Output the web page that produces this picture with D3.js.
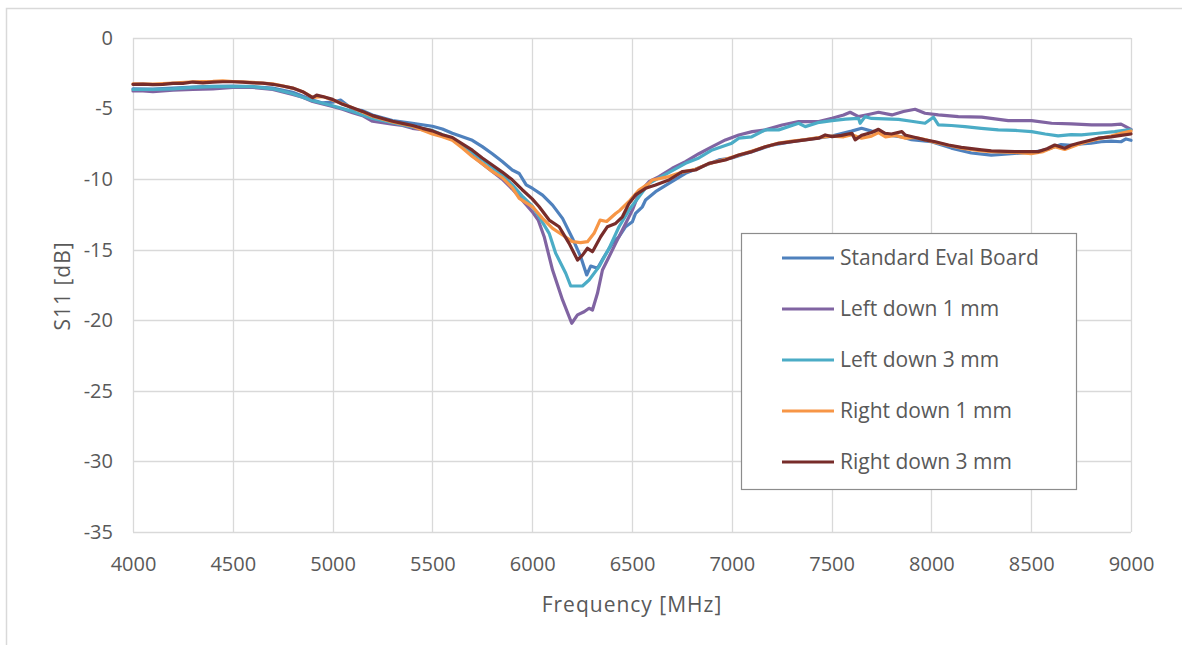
<!DOCTYPE html>
<html>
<head>
<meta charset="utf-8">
<script src="https://cdn.jsdelivr.net/npm/d3@7"></script>
<style>
  html, body { margin: 0; padding: 0; background: #ffffff; }
  svg { display: block; }
  text { font-family: "Open Sans", "Noto Sans", sans-serif; fill: #595959; }
</style>
</head>
<body>
<svg id="chart" width="1182" height="645"></svg>
<script>
// ---------- data ----------
const seriesNames = ["Standard Eval Board", "Left down 1 mm", "Left down 3 mm", "Right down 1 mm", "Right down 3 mm"];
const seriesColors = ["#4F81BD", "#8064A2", "#4BACC6", "#F79646", "#772C2A"];
const xTicks = [4000, 4500, 5000, 5500, 6000, 6500, 7000, 7500, 8000, 8500, 9000];
const yTicks = [0, -5, -10, -15, -20, -25, -30, -35];

// [frequency MHz, S11 dB]
const standardEval = [
  [4000,-3.6],[4100,-3.62],[4200,-3.55],[4300,-3.47],[4400,-3.42],[4500,-3.4],[4600,-3.45],[4700,-3.55],
  [4800,-3.85],[4900,-4.4],[4950,-4.6],[5000,-4.55],[5040,-4.4],[5100,-5.05],[5150,-5.15],[5200,-5.45],
  [5300,-5.85],[5400,-6.05],[5500,-6.25],[5550,-6.45],[5600,-6.75],[5650,-7.0],[5700,-7.25],[5750,-7.7],
  [5800,-8.2],[5850,-8.75],[5900,-9.35],[5935,-9.6],[5970,-10.4],[6002,-10.66],[6052,-11.13],[6102,-11.84],
  [6152,-12.78],[6202,-14.2],[6243,-15.5],[6273,-16.79],[6293,-16.16],[6327,-16.32],[6360,-15.5],[6402,-14.55],
  [6435,-14.08],[6468,-13.37],[6502,-13.02],[6518,-12.42],[6552,-11.96],[6568,-11.48],[6618,-10.89],[6685,-10.3],
  [6768,-9.59],[6852,-9.11],[6935,-8.64],[7000,-8.5],[7100,-8.05],[7200,-7.6],[7300,-7.35],[7400,-7.15],
  [7500,-6.95],[7600,-6.6],[7650,-6.4],[7700,-6.6],[7750,-6.7],[7800,-6.9],[7850,-7.0],[7900,-7.2],
  [8000,-7.35],[8100,-7.8],[8200,-8.15],[8300,-8.3],[8400,-8.2],[8500,-8.1],[8550,-8.0],[8600,-7.8],
  [8650,-7.55],[8700,-7.6],[8750,-7.5],[8800,-7.45],[8850,-7.35],[8900,-7.3],[8950,-7.35],[8975,-7.15],[9000,-7.25]
];
const leftDown1 = [
  [4000,-3.75],[4050,-3.75],[4100,-3.8],[4200,-3.7],[4300,-3.65],[4400,-3.6],[4500,-3.5],[4600,-3.5],
  [4700,-3.65],[4800,-4.0],[4850,-4.2],[4900,-4.5],[5000,-4.85],[5050,-5.05],[5100,-5.3],[5150,-5.5],
  [5200,-5.9],[5250,-6.0],[5300,-6.1],[5350,-6.2],[5400,-6.4],[5450,-6.5],[5500,-6.7],[5550,-6.95],
  [5600,-7.2],[5650,-7.7],[5700,-8.35],[5750,-8.9],[5800,-9.45],[5850,-10.0],[5900,-10.7],[5950,-11.5],
  [6000,-12.3],[6030,-12.9],[6060,-14.08],[6102,-16.44],[6152,-18.56],[6198,-20.21],[6227,-19.62],[6260,-19.4],
  [6285,-19.15],[6302,-19.27],[6327,-18.09],[6352,-16.44],[6385,-15.5],[6418,-14.55],[6468,-13.14],[6502,-12.19],
  [6535,-11.0],[6585,-10.18],[6635,-9.82],[6702,-9.23],[6768,-8.76],[6835,-8.2],[6902,-7.7],[6968,-7.22],
  [7035,-6.87],[7102,-6.63],[7168,-6.51],[7252,-6.16],[7335,-5.92],[7435,-5.92],[7502,-5.69],[7560,-5.45],
  [7593,-5.26],[7635,-5.57],[7690,-5.4],[7735,-5.26],[7802,-5.45],[7860,-5.21],[7918,-5.05],[7968,-5.33],
  [8035,-5.45],[8135,-5.57],[8252,-5.61],[8385,-5.85],[8502,-5.85],[8602,-6.04],[8702,-6.09],[8802,-6.16],
  [8902,-6.16],[8950,-6.1],[9000,-6.47]
];
const leftDown3 = [
  [4000,-3.65],[4100,-3.65],[4200,-3.6],[4300,-3.5],[4400,-3.45],[4500,-3.45],[4600,-3.45],[4700,-3.6],
  [4800,-3.95],[4900,-4.45],[5000,-4.8],[5100,-5.2],[5200,-5.7],[5300,-6.0],[5400,-6.3],[5500,-6.55],
  [5550,-6.85],[5600,-7.1],[5650,-7.6],[5700,-8.1],[5750,-8.6],[5800,-9.15],[5850,-9.7],[5900,-10.4],
  [5950,-11.2],[6000,-11.9],[6035,-12.67],[6085,-13.84],[6118,-15.26],[6168,-16.67],[6193,-17.57],[6252,-17.57],
  [6285,-17.15],[6335,-16.2],[6385,-14.9],[6435,-13.37],[6485,-12.19],[6535,-11.25],[6585,-10.3],[6652,-9.78],
  [6768,-8.88],[6835,-8.5],[6902,-7.93],[7000,-7.45],[7035,-7.1],[7100,-7.0],[7168,-6.51],[7235,-6.51],
  [7335,-6.04],[7368,-6.28],[7430,-6.0],[7502,-5.85],[7570,-5.75],[7635,-5.69],[7643,-6.04],[7668,-5.57],
  [7700,-5.7],[7835,-5.76],[7900,-5.9],[7968,-6.04],[8010,-5.61],[8035,-6.16],[8100,-6.2],[8168,-6.28],
  [8250,-6.4],[8335,-6.51],[8420,-6.55],[8502,-6.63],[8570,-6.8],[8635,-6.94],[8700,-6.85],[8752,-6.87],
  [8835,-6.75],[8918,-6.63],[8985,-6.51],[9000,-6.5]
];
const rightDown1 = [
  [4000,-3.25],[4100,-3.27],[4200,-3.2],[4300,-3.1],[4400,-3.07],[4450,-3.03],[4500,-3.08],[4600,-3.15],
  [4700,-3.25],[4800,-3.55],[4850,-3.8],[4900,-4.2],[4950,-4.15],[5000,-4.4],[5100,-4.95],[5200,-5.55],
  [5300,-5.95],[5400,-6.25],[5500,-6.8],[5550,-7.0],[5600,-7.25],[5650,-7.8],[5700,-8.4],[5750,-8.9],
  [5800,-9.45],[5850,-9.9],[5900,-10.6],[5935,-11.37],[6002,-11.96],[6052,-12.78],[6102,-13.49],[6152,-13.96],
  [6202,-14.43],[6243,-14.5],[6277,-14.43],[6310,-13.84],[6340,-12.9],[6373,-13.0],[6418,-12.43],[6440,-12.2],
  [6490,-11.5],[6535,-10.78],[6585,-10.3],[6602,-10.06],[6685,-9.82],[6752,-9.5],[6818,-9.3],[6885,-8.9],
  [6968,-8.6],[7035,-8.3],[7102,-8.0],[7168,-7.7],[7235,-7.45],[7302,-7.3],[7368,-7.2],[7435,-7.05],
  [7502,-6.95],[7560,-7.0],[7602,-6.85],[7650,-7.1],[7700,-6.95],[7735,-6.7],[7770,-7.0],[7820,-6.9],
  [7870,-7.1],[7920,-7.05],[7968,-7.2],[8020,-7.4],[8085,-7.6],[8150,-7.8],[8252,-8.0],[8300,-8.05],
  [8418,-8.1],[8500,-8.2],[8560,-8.05],[8618,-7.7],[8668,-7.9],[8735,-7.55],[8780,-7.35],[8835,-7.15],
  [8900,-6.95],[8950,-6.75],[9000,-6.6]
];
const rightDown3 = [
  [4000,-3.28],[4050,-3.27],[4100,-3.3],[4150,-3.28],[4200,-3.22],[4250,-3.22],[4300,-3.12],[4350,-3.18],
  [4400,-3.12],[4450,-3.1],[4500,-3.1],[4550,-3.12],[4600,-3.18],[4650,-3.2],[4700,-3.28],[4750,-3.4],
  [4800,-3.55],[4850,-3.8],[4900,-4.22],[4920,-4.05],[4950,-4.15],[5000,-4.35],[5050,-4.7],[5100,-4.95],
  [5150,-5.2],[5200,-5.5],[5250,-5.7],[5300,-5.9],[5350,-6.05],[5400,-6.2],[5450,-6.4],[5500,-6.58],
  [5550,-6.85],[5600,-7.05],[5650,-7.5],[5700,-7.95],[5750,-8.5],[5800,-9.0],[5850,-9.5],[5900,-10.05],
  [5950,-10.75],[6000,-11.4],[6035,-11.96],[6085,-12.9],[6135,-13.37],[6185,-14.55],[6227,-15.73],[6252,-15.38],
  [6277,-14.9],[6302,-15.14],[6343,-14.08],[6377,-13.37],[6418,-13.14],[6452,-12.67],[6485,-11.72],[6518,-11.12],
  [6568,-10.65],[6618,-10.41],[6685,-10.06],[6752,-9.47],[6818,-9.35],[6885,-8.88],[6968,-8.64],[7035,-8.29],
  [7102,-8.05],[7168,-7.7],[7235,-7.46],[7302,-7.34],[7368,-7.22],[7435,-7.1],[7468,-6.87],[7502,-6.99],
  [7550,-6.9],[7602,-6.75],[7618,-7.22],[7650,-6.9],[7700,-6.7],[7735,-6.47],[7768,-6.75],[7800,-6.8],
  [7852,-6.63],[7868,-6.87],[7920,-7.05],[7968,-7.22],[8020,-7.35],[8085,-7.58],[8150,-7.75],[8252,-7.93],
  [8300,-8.0],[8418,-8.05],[8500,-8.05],[8535,-8.05],[8580,-7.85],[8618,-7.58],[8668,-7.81],[8700,-7.6],
  [8735,-7.46],[8780,-7.3],[8835,-7.1],[8900,-7.0],[8950,-6.9],[9000,-6.8]
];
const seriesData = [standardEval, leftDown1, leftDown3, rightDown1, rightDown3];

// ---------- layout ----------
const svg = d3.select("#chart");
const plot = { left: 133, top: 38, width: 998, height: 494 };
const gridColor = "#d9d9d9";

// outer chart frame
svg.append("rect")
  .attr("x", 6.5).attr("y", 8.5).attr("width", 1200).attr("height", 700)
  .attr("fill", "none").attr("stroke", gridColor).attr("stroke-width", 1.5);

const x = d3.scaleLinear().domain([4000, 9000]).range([plot.left, plot.left + plot.width]);
const y = d3.scaleLinear().domain([-35, 0]).range([plot.top + plot.height, plot.top]);

// grid
const g = svg.append("g");
g.selectAll("line.h").data(yTicks).join("line")
  .attr("x1", plot.left).attr("x2", plot.left + plot.width)
  .attr("y1", d => Math.round(y(d)) + 0.5).attr("y2", d => Math.round(y(d)) + 0.5)
  .attr("stroke", gridColor).attr("stroke-width", 1.3);
g.selectAll("line.v").data(xTicks).join("line")
  .attr("y1", plot.top).attr("y2", plot.top + plot.height)
  .attr("x1", d => Math.round(x(d)) + 0.5).attr("x2", d => Math.round(x(d)) + 0.5)
  .attr("stroke", gridColor).attr("stroke-width", 1.3);

// axes (labels only, via d3 axis)
const xAxis = svg.append("g")
  .attr("transform", `translate(0,${plot.top + plot.height})`)
  .call(d3.axisBottom(x).tickValues(xTicks).tickSize(0).tickPadding(25).tickFormat(d => String(d)));
const yAxis = svg.append("g")
  .attr("transform", `translate(${plot.left},0)`)
  .call(d3.axisLeft(y).tickValues(yTicks).tickSize(0).tickPadding(20).tickFormat(d => String(d)));
[xAxis, yAxis].forEach(a => {
  a.select(".domain").remove();
  a.selectAll("text").style("font-family", "'Open Sans', sans-serif").style("font-size", "20px").attr("fill", "#595959");
});

// axis titles
svg.append("text")
  .attr("x", 632).attr("y", 612).attr("text-anchor", "middle")
  .style("font-size", "21px").style("letter-spacing", "1px").text("Frequency [MHz]");
svg.append("text")
  .attr("transform", "translate(70,286) rotate(-90)").attr("text-anchor", "middle")
  .style("font-size", "21px").style("letter-spacing", "1px").text("S11 [dB]");

// lines
const line = d3.line().x(d => x(d[0])).y(d => y(d[1]));
svg.append("g").selectAll("path").data(seriesData).join("path")
  .attr("d", d => line(d))
  .attr("fill", "none")
  .attr("stroke", (d, i) => seriesColors[i])
  .attr("stroke-width", 3.2)
  .attr("stroke-linejoin", "round")
  .attr("stroke-linecap", "round");

// legend
const legend = svg.append("g");
legend.append("rect")
  .attr("x", 741.5).attr("y", 233.5).attr("width", 335).attr("height", 256)
  .attr("fill", "#ffffff").attr("stroke", "#8c8c8c").attr("stroke-width", 1.2);
const items = legend.selectAll("g.item").data(seriesNames).join("g")
  .attr("transform", (d, i) => `translate(782,${258 + i * 51})`);
items.append("line")
  .attr("x1", 0).attr("x2", 52).attr("y1", 0).attr("y2", 0)
  .attr("stroke", (d, i) => seriesColors[i]).attr("stroke-width", 3.2);
items.append("text")
  .attr("x", 58).attr("y", 0).attr("dy", "0.35em")
  .style("font-size", "21px").text(d => d);
</script>
</body>
</html>
